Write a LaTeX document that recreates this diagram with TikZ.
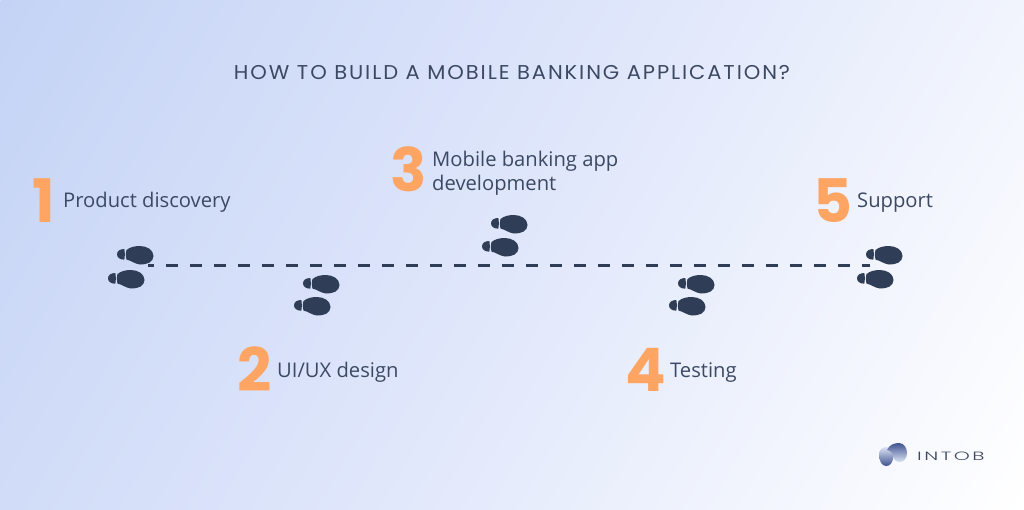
\documentclass[tikz,border=0pt]{standalone}
\usepackage{fontspec}
\usepackage{graphicx}
\setmainfont{Open Sans}
\newfontfamily\titlefont{Poppins}
\newfontfamily\numfont{Poppins}
\newfontfamily\logofont{Poppins Light}
\definecolor{ink}{HTML}{2F3D56}
\definecolor{labelink}{HTML}{3C4963}
\definecolor{orange1}{HTML}{FFA564}
\definecolor{bgA}{HTML}{C4D3F5}
\definecolor{bgB}{HTML}{E0E7FB}
\definecolor{bgC}{HTML}{FFFFFF}
\definecolor{logoA}{HTML}{3F5390}
\definecolor{logoB}{HTML}{DCE3F4}
\tikzset{
 x=1pt,y=-1pt,
 foot/.pic={
  \fill[ink] (-11.5,-5) .. controls (-8,-8) and (-3,-9) .. (2,-9)
     .. controls (9,-9) and (15.5,-5) .. (15.5,1)
     .. controls (15.5,7) and (9,9.8) .. (2,9.5)
     .. controls (-3,9) and (-7,5.5) .. (-11.5,4.5)
     .. controls (-12.3,2) and (-12.3,-2.5) .. (-11.5,-5) -- cycle;
  \fill[ink] (-13.7,-6) .. controls (-18,-6) and (-21,-4) .. (-21,-0.7)
     .. controls (-21,2.5) and (-18,4.7) .. (-13.7,4.7)
     .. controls (-13,1.5) and (-13,-3) .. (-13.7,-6) -- cycle;
 },
 numlabel/.style={font=\numfont\bfseries\fontsize{60}{60}\selectfont,text=orange1,anchor=base,inner sep=0pt},
 steplabel/.style={font=\fontsize{20.2}{24}\selectfont,text=labelink,anchor=base west,inner sep=0pt,align=left},
 route/.style={draw=ink,line width=2.4pt,dash pattern=on 12pt off 12pt,dash phase=6pt},
}
\begin{document}
\begin{tikzpicture}
\useasboundingbox (0,0) rectangle (1024,509);
\begin{scope}
\clip (0,0) rectangle (1024,509);
\begin{scope}[transform canvas={rotate around={-30:(512,254.5)}}]
\shade[left color=bgA,right color=bgC,middle color=bgB] (-58,-400) rectangle (1082,909);
\end{scope}
\end{scope}
\node[font=\titlefont\fontsize{20}{22}\selectfont,text=labelink,anchor=base,inner sep=0pt] (title) at (512,79) {\scalebox{1.053}[1]{\addfontfeature{LetterSpace=9}HOW TO BUILD A MOBILE BANKING APPLICATION?}};
\coordinate (routeA) at (148,265.5);
\coordinate (routeB) at (870,265.5);
\draw[route] (routeA) -- (routeB);
\pic at (138,255) {foot};
\pic at (129,279) {foot};
\pic at (324,284) {foot};
\pic at (315,306) {foot};
\pic at (512,224) {foot};
\pic at (503,247) {foot};
\pic at (699,284) {foot};
\pic at (690,306) {foot};
\pic at (887,255) {foot};
\pic at (878,279) {foot};
\node[numlabel] (n1) at (44,222) {1};
\node[steplabel] (t1) at (63,207) {Product discovery};
\node[numlabel] (n2) at (255,391) {2};
\node[steplabel] (t2) at (277,377) {UI/UX design};
\node[numlabel] (n3) at (409,191) {3};
\node[steplabel] (t3) at (432,190) {Mobile banking app\\development};
\node[numlabel] (n4) at (646,391) {4};
\node[steplabel] (t4) at (670,377) {Testing};
\node[numlabel] (n5) at (833,222) {5};
\node[steplabel] (t5) at (857,207) {Support};
\shade[top color=logoB,bottom color=logoA]
 (879,455) .. controls (879,450) and (882,447) .. (886,447)
 .. controls (890,447) and (893,451) .. (893,456)
 -- (893,459) .. controls (892,463) and (890,466) .. (886,466)
 .. controls (882,466) and (879,461) .. (879,455) -- cycle;
\shade[top color=logoA,bottom color=logoB]
 (887,450) .. controls (889,445) and (894,443) .. (899,443)
 .. controls (904,443) and (907,448) .. (907,453)
 .. controls (907,458) and (904,462) .. (900,462)
 .. controls (896,462) and (893,459) .. (893,456)
 .. controls (893,453) and (891,451) .. (887,450) -- cycle;
\node[font=\logofont\fontsize{12}{12}\selectfont,text=labelink,anchor=base west,inner sep=0pt] (logo) at (917,460) {\scalebox{1.7}[1]{\addfontfeature{LetterSpace=12}INTOB}};
\end{tikzpicture}
\end{document}
